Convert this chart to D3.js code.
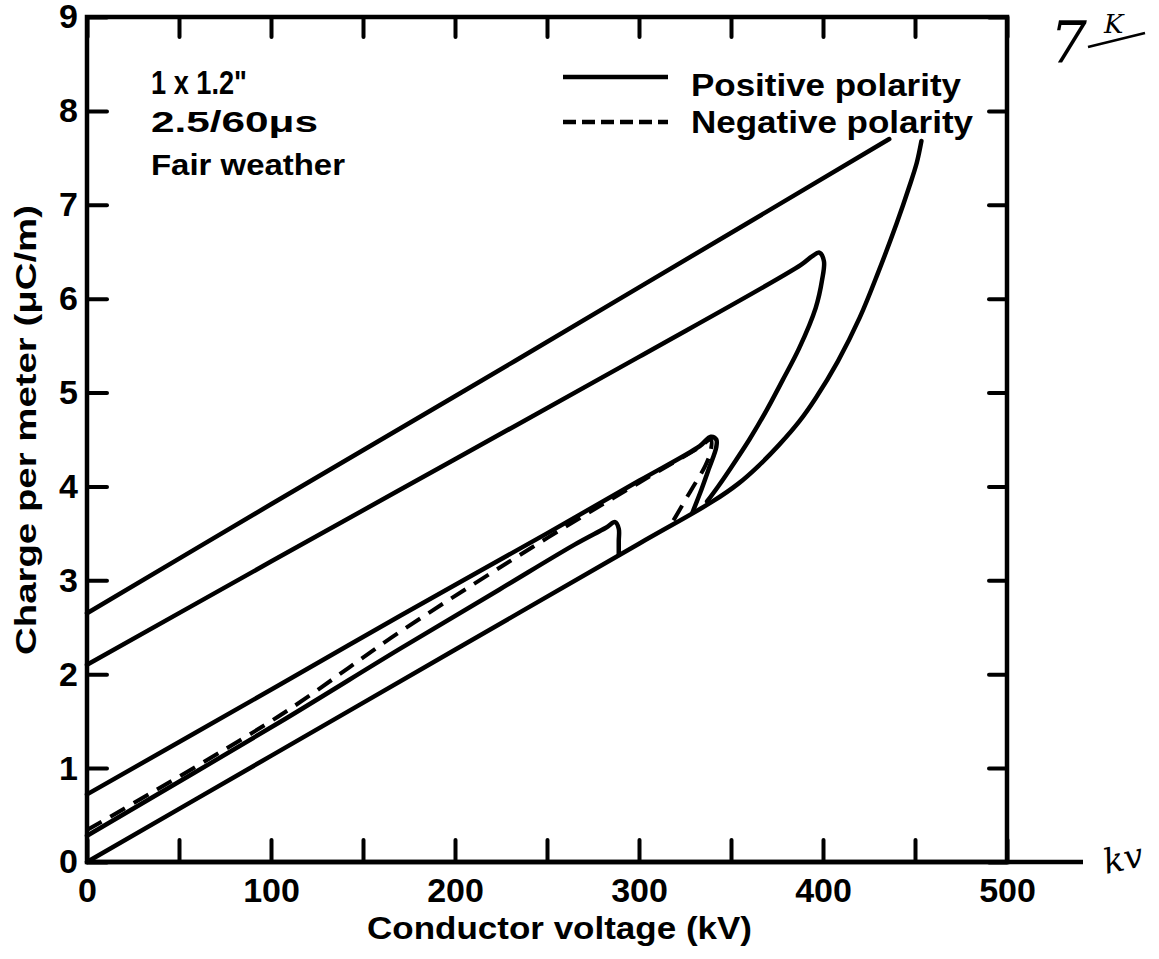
<!DOCTYPE html>
<html>
<head>
<meta charset="utf-8">
<script src="https://cdn.jsdelivr.net/npm/d3@7/dist/d3.min.js"></script>
<style>
  body { margin: 0; background: #fff; }
  text { font-family: "Liberation Sans", Arial, sans-serif; font-weight: bold; fill: #000; }
  .hand { font-family: "DejaVu Serif", serif; font-style: italic; font-weight: normal; }
</style>
</head>
<body>
<div id="chart"></div>
<script>
var w = 1159,
  h = 959;

// axis ticks
var xLabels = [0, 100, 200, 300, 400, 500];
var xTicks = [0, 50, 100, 150, 200, 250, 300, 350, 400, 450, 500];
var yLabels = [0, 1, 2, 3, 4, 5, 6, 7, 8, 9];

// curves: [conductor voltage kV, charge uC/m]
// shared bottom line + outer rising branch
var posOuterRise = [[0, 0], [100, 1.13], [200, 2.26], [300, 3.39], [340, 3.84], [354, 4.03], [365, 4.22],
  [376, 4.44], [387, 4.69], [396, 4.94], [408, 5.33], [420, 5.8], [430, 6.28], [440, 6.8], [447, 7.2],
  [451, 7.45], [453.5, 7.68]];
// outer return line
var posOuterFall = [[0, 2.65], [100, 3.81], [200, 4.96], [300, 6.12], [436, 7.7]];
var posLoop400 = [[0, 2.1], [100, 3.2], [200, 4.29], [300, 5.38], [388, 6.36], [394, 6.45], [398, 6.49],
  [400.5, 6.4], [399.5, 6.2], [396, 5.9], [387, 5.47], [378, 5.13], [369, 4.8], [360, 4.5], [350, 4.2],
  [343, 4.0], [337, 3.84]];
var posLoop340 = [[0, 0.72], [104, 1.88], [170, 2.62], [250, 3.5], [300, 4.06], [333, 4.43], [339, 4.53],
  [342, 4.5], [342, 4.42], [338, 4.19], [334, 3.97], [329, 3.72]];
var posLoop290 = [[0, 0.28], [104, 1.48], [170, 2.27], [224, 2.9], [265, 3.38], [282, 3.56], [287, 3.62],
  [289, 3.55], [289, 3.42], [289, 3.27]];
var negLoop340 = [[0, 0.34], [104, 1.55], [170, 2.45], [250, 3.45], [300, 4.04], [333, 4.42], [339, 4.5],
  [339, 4.38], [336, 4.22], [328, 3.95], [317, 3.58]];

var solidCurves = [posOuterRise, posOuterFall, posLoop400, posLoop340, posLoop290];
var dashedCurves = [negLoop340];

var notes = ['1 x 1.2"', '2.5/60\u03bcs', 'Fair weather'];
var legendLabels = ['Positive polarity', 'Negative polarity'];

var svg = d3.select('#chart').append('svg')
  .attr('width', w)
  .attr('height', h);

var x = d3.scaleLinear().domain([0, 500]).range([87, 1007]);
var y = d3.scaleLinear().domain([0, 9]).range([862, 17]);

var line = d3.line()
  .x(function(d) { return x(d[0]); })
  .y(function(d) { return y(d[1]); })
  .curve(d3.curveCatmullRom.alpha(0.5));

// frame
svg.append('rect')
  .attr('x', x(0)).attr('y', y(9))
  .attr('width', x(500) - x(0)).attr('height', y(0) - y(9))
  .attr('fill', 'none').attr('stroke', '#000').attr('stroke-width', 4.5);

// x axis runs on past the frame
svg.append('line')
  .attr('x1', x(0)).attr('x2', x(500) + 76)
  .attr('y1', y(0)).attr('y2', y(0))
  .attr('stroke', '#000').attr('stroke-width', 4.5);

function styleAxis(g) {
  g.select('.domain').remove();
  g.selectAll('.tick line').attr('stroke', '#000').attr('stroke-width', 4).attr('stroke-linecap', 'round');
  g.selectAll('.tick text').style('font-size', '34px').style('font-weight', 'bold')
    .style('font-family', '"Liberation Sans", Arial, sans-serif');
}

svg.append('g').attr('transform', 'translate(0,' + y(0) + ')')
  .call(d3.axisBottom(x).tickValues(xTicks).tickSize(-22).tickPadding(16)
    .tickFormat(function(d) { return xLabels.indexOf(d) >= 0 ? d : ''; }))
  .call(styleAxis);

svg.append('g').attr('transform', 'translate(0,' + y(9) + ')')
  .call(d3.axisTop(x).tickValues(xTicks).tickSize(-20).tickFormat(''))
  .call(styleAxis);

svg.append('g').attr('transform', 'translate(' + x(0) + ',0)')
  .call(d3.axisLeft(y).tickValues(yLabels).tickSize(-20).tickPadding(9).tickFormat(d3.format('d')))
  .call(styleAxis);

svg.append('g').attr('transform', 'translate(' + x(500) + ',0)')
  .call(d3.axisRight(y).tickValues(yLabels).tickSize(-18).tickFormat(''))
  .call(styleAxis);

// curves
svg.selectAll('path.neg')
  .data(dashedCurves)
  .enter().append('path')
  .attr('class', 'neg')
  .attr('d', line)
  .attr('fill', 'none').attr('stroke', '#000').attr('stroke-width', 4)
  .attr('stroke-dasharray', '17,10');

svg.selectAll('path.pos')
  .data(solidCurves)
  .enter().append('path')
  .attr('class', 'pos')
  .attr('d', line)
  .attr('fill', 'none').attr('stroke', '#000').attr('stroke-width', 4.5)
  .attr('stroke-linecap', 'round').attr('stroke-linejoin', 'round');

// axis titles
svg.append('text')
  .attr('x', 367).attr('y', 939)
  .attr('textLength', 385).attr('lengthAdjust', 'spacingAndGlyphs')
  .style('font-size', '31px')
  .text('Conductor voltage (kV)');

svg.append('text')
  .attr('transform', 'translate(36,655) rotate(-90)')
  .attr('textLength', 450).attr('lengthAdjust', 'spacingAndGlyphs')
  .style('font-size', '30px')
  .text('Charge per meter (\u03bcC/m)');

// notes at top left
var noteY = [94, 132, 175],
  noteW = [96, 167, 194],
  noteSize = [33, 30, 30];
svg.selectAll('text.note')
  .data(notes)
  .enter().append('text')
  .attr('class', 'note')
  .attr('x', 151)
  .attr('y', function(d, i) { return noteY[i]; })
  .attr('textLength', function(d, i) { return noteW[i]; })
  .attr('lengthAdjust', 'spacingAndGlyphs')
  .style('font-size', function(d, i) { return noteSize[i] + 'px'; })
  .text(function(d) { return d; });

// legend
var legY = [77, 122],
  legTextY = [96, 133],
  legW = [270, 282];
var leg = svg.selectAll('g.leg')
  .data(legendLabels)
  .enter().append('g')
  .attr('class', 'leg');
leg.append('line')
  .attr('x1', 563).attr('x2', 668)
  .attr('y1', function(d, i) { return legY[i]; })
  .attr('y2', function(d, i) { return legY[i]; })
  .attr('stroke', '#000').attr('stroke-width', 4.5)
  .attr('stroke-dasharray', function(d, i) { return i === 1 ? '13,6' : null; });
leg.append('text')
  .attr('x', 691)
  .attr('y', function(d, i) { return legTextY[i]; })
  .attr('textLength', function(d, i) { return legW[i]; })
  .attr('lengthAdjust', 'spacingAndGlyphs')
  .style('font-size', '32px')
  .text(function(d) { return d; });

// handwritten marks on the scan
svg.append('text').attr('class', 'hand')
  .attr('x', 1050).attr('y', 63).style('font-size', '58px').text('7');
svg.append('text').attr('class', 'hand')
  .attr('x', 1104).attr('y', 33).style('font-size', '26px').text('K');
svg.append('line')
  .attr('x1', 1088).attr('y1', 47).attr('x2', 1145).attr('y2', 33)
  .attr('stroke', '#000').attr('stroke-width', 2.5);
svg.append('text').attr('class', 'hand')
  .attr('transform', 'translate(1106,874) rotate(-12)')
  .style('font-size', '34px').text('kv');
</script>
</body>
</html>
